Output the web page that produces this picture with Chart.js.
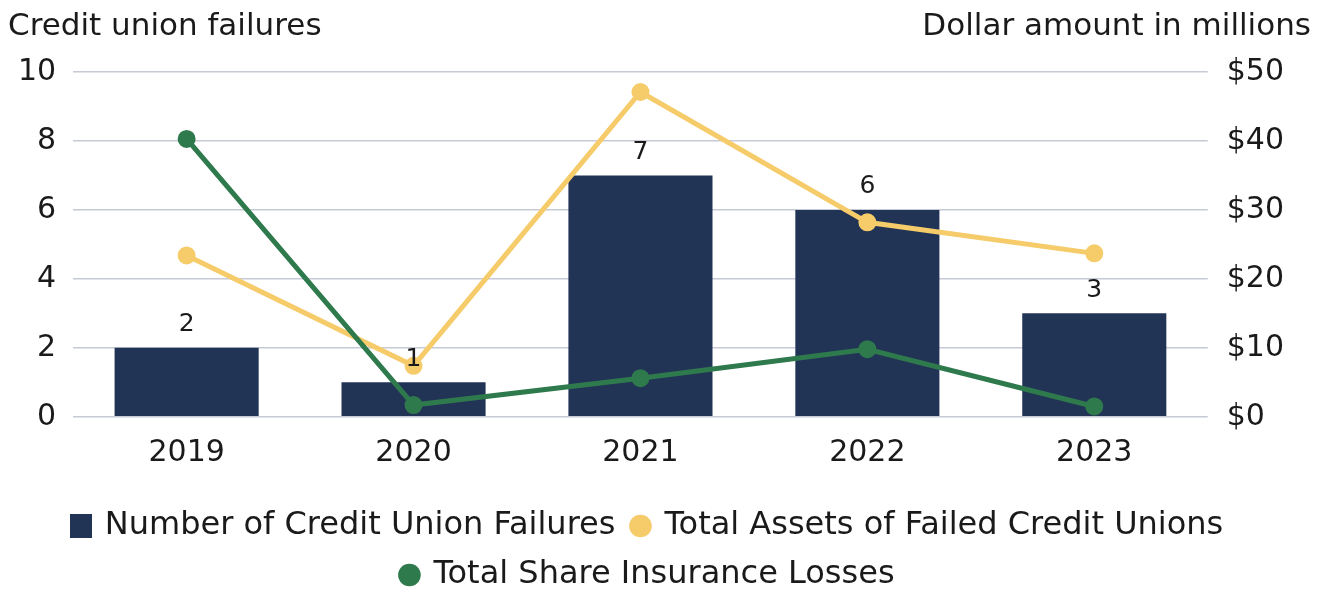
<!DOCTYPE html>
<html>
<head>
<meta charset="utf-8">
<script src="https://cdn.jsdelivr.net/npm/chart.js@4.4.0/dist/chart.umd.min.js"></script>
<style>
  html, body { margin: 0; padding: 0; background: #fff; }
  #wrap { width: 1323px; height: 589px; position: relative; }
</style>
</head>
<body>
<div id="wrap"><canvas id="failChart"></canvas></div>
<script>
const years = ['2019', '2020', '2021', '2022', '2023'];
const failures = [2, 1, 7, 6, 3];
const assets = [23.4, 7.4, 47.1, 28.2, 23.7];
const losses = [40.3, 1.7, 5.6, 9.8, 1.5];

const FONT = 'DejaVu Sans';
const NAVY = '#223455';
const GOLD = '#f6cb6a';
const GREEN = '#2f7a4d';

// legend swatch for the bars: a small upright block
const barSwatch = document.createElement('canvas');
barSwatch.width = 22;
barSwatch.height = 24;
const sctx = barSwatch.getContext('2d');
sctx.fillStyle = NAVY;
sctx.fillRect(0, 0, 22, 24);

// numbers above the bars
const barLabels = {
  id: 'barLabels',
  afterDatasetsDraw(chart) {
    const ctx = chart.ctx;
    const meta = chart.getDatasetMeta(0);
    ctx.save();
    ctx.font = '25px ' + FONT;
    ctx.fillStyle = '#1a1a1a';
    ctx.textAlign = 'center';
    ctx.textBaseline = 'middle';
    meta.data.forEach((bar, i) => {
      ctx.fillText(failures[i], bar.x, bar.y - 23);
    });
    ctx.restore();
  }
};

// horizontal axis titles above each y axis
const axisTitles = {
  id: 'axisTitles',
  afterDraw(chart) {
    const ctx = chart.ctx;
    ctx.save();
    ctx.font = '31px ' + FONT;
    ctx.fillStyle = '#1a1a1a';
    ctx.textBaseline = 'middle';
    ctx.textAlign = 'left';
    ctx.fillText('Credit union failures', 8, 27);
    ctx.textAlign = 'right';
    ctx.fillText('Dollar amount in millions', chart.width - 12, 27);
    ctx.restore();
  }
};

new Chart('failChart', {
  type: 'bar',
  data: {
    labels: years,
    datasets: [
      {
        label: 'Number of Credit Union Failures',
        data: failures,
        backgroundColor: NAVY,
        barPercentage: 0.635,
        categoryPercentage: 1,
        yAxisID: 'y',
        order: 2
      },
      {
        type: 'line',
        label: 'Total Assets of Failed Credit Unions',
        data: assets,
        borderColor: GOLD,
        backgroundColor: GOLD,
        borderWidth: 5,
        pointRadius: 6.5,
        pointHoverRadius: 6.5,
        yAxisID: 'y1',
        order: 1
      },
      {
        type: 'line',
        label: 'Total Share Insurance Losses',
        data: losses,
        borderColor: GREEN,
        backgroundColor: GREEN,
        borderWidth: 5,
        pointRadius: 6.5,
        pointHoverRadius: 6.5,
        yAxisID: 'y1',
        order: 0
      }
    ]
  },
  options: {
    responsive: true,
    maintainAspectRatio: false,
    animation: false,
    layout: { padding: { top: 72, left: 1, right: 28, bottom: -12 } },
    plugins: {
      tooltip: { enabled: false },
      legend: {
        position: 'bottom',
        title: { display: true, text: ' ', font: { size: 1 }, padding: { top: 0, bottom: 11 } },
        labels: {
          font: { family: FONT, size: 32 },
          color: '#1a1a1a',
          usePointStyle: true,
          boxWidth: 16,
          boxHeight: 16,
          padding: 17,
          sort: (a, b) => a.datasetIndex - b.datasetIndex,
          generateLabels(chart) {
            const items = Chart.defaults.plugins.legend.labels.generateLabels(chart);
            items.forEach(it => {
              if (it.datasetIndex === 0) it.pointStyle = barSwatch;
              else it.pointStyle = 'circle';
              it.lineWidth = 0;
            });
            return items;
          }
        }
      }
    },
    scales: {
      x: {
        grid: { display: false },
        border: { display: false },
        ticks: { font: { family: FONT, size: 30 }, color: '#1a1a1a', padding: 10 }
      },
      y: {
        position: 'left',
        min: 0, max: 10,
        ticks: { stepSize: 2, font: { family: FONT, size: 30 }, color: '#1a1a1a', padding: 17 },
        grid: { color: '#c6cad6', lineWidth: 1.5, drawTicks: false },
        border: { display: false }
      },
      y1: {
        position: 'right',
        min: 0, max: 50,
        ticks: {
          stepSize: 10,
          font: { family: FONT, size: 30 },
          color: '#1a1a1a',
          padding: 11,
          callback: v => '$' + v
        },
        grid: { display: false },
        border: { display: false }
      }
    }
  },
  plugins: [barLabels, axisTitles]
});
</script>
</body>
</html>
